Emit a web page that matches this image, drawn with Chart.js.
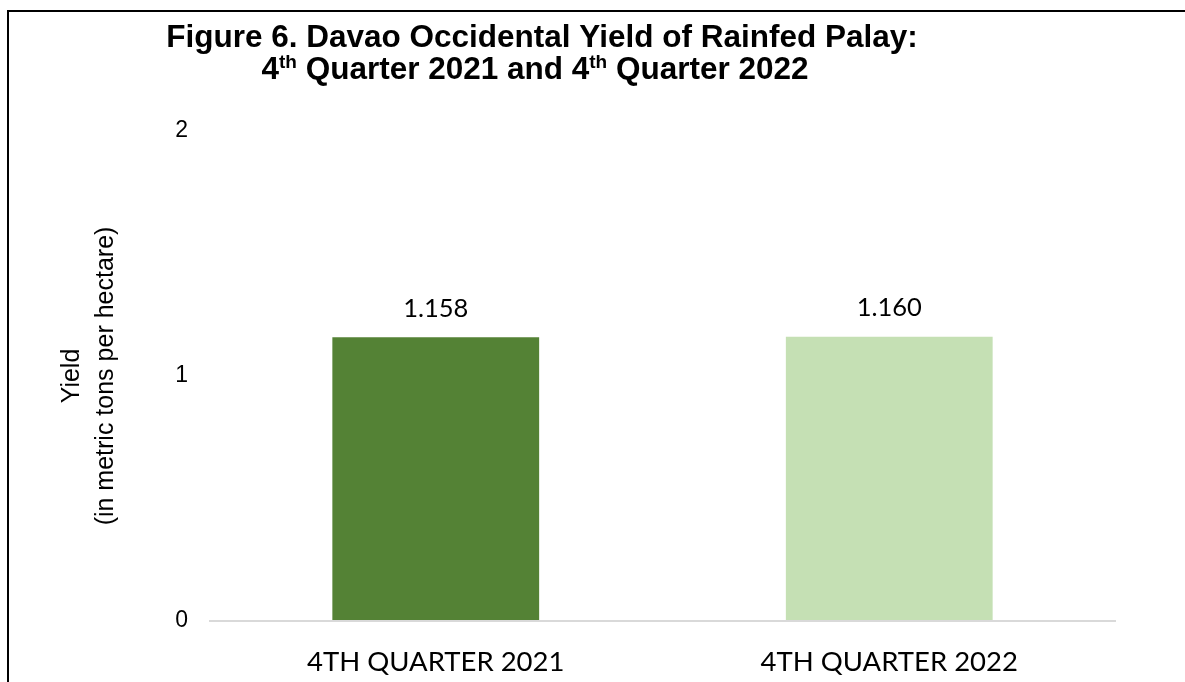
<!DOCTYPE html>
<html>
<head>
<meta charset="utf-8">
<script src="https://cdn.jsdelivr.net/npm/chart.js@4"></script>
<style>
	html, body { margin: 0; padding: 0; background: #fff; }
	#wrap { position: relative; width: 1185px; height: 682px; overflow: hidden; }
	#frame {
		position: absolute; left: 7px; top: 10px; width: 1200px; height: 700px;
		border-left: 2px solid #000; border-top: 2px solid #000;
		pointer-events: none;
	}
	canvas { position: absolute; left: 0; top: 0; }
</style>
</head>
<body>
<div id="wrap">
	<canvas id="yieldChart" width="1185" height="682"></canvas>
	<div id="frame"></div>
</div>
<script>
	// Chart data
	const categories = ['4TH QUARTER 2021', '4TH QUARTER 2022'];
	const yieldValues = [1.158, 1.160];
	const barColors = ['#548235', '#C5E0B4'];
	const yTicks = [0, 1, 2];

	// Title pieces: [text, superscript?]
	const titleLine1 = [['Figure 6. Davao Occidental Yield of Rainfed Palay:', false]];
	const titleLine2 = [['4', false], ['th', true], [' Quarter 2021 and 4', false], ['th', true], [' Quarter 2022', false]];

	const TITLE_FONT = 'bold 31.5px "Liberation Sans", Arial, sans-serif';
	const SUP_FONT = 'bold 19px "Liberation Sans", Arial, sans-serif';

	/**
	 * Draws the two-line title with superscripts
	 */
	const titlePlugin = {
		id: 'figTitle',
		afterDraw: function(chart) {
			const ctx = chart.ctx;
			const drawLine = function(parts, cx, baseY) {
				let total = 0;
				parts.forEach(function(p) {
					ctx.font = p[1] ? SUP_FONT : TITLE_FONT;
					total += ctx.measureText(p[0]).width;
				});
				let x = cx - total / 2;
				parts.forEach(function(p) {
					ctx.font = p[1] ? SUP_FONT : TITLE_FONT;
					ctx.fillText(p[0], x, p[1] ? baseY - 11 : baseY);
					x += ctx.measureText(p[0]).width;
				});
			};
			ctx.save();
			ctx.fillStyle = '#000';
			ctx.textAlign = 'left';
			ctx.textBaseline = 'alphabetic';
			drawLine(titleLine1, 542, 47);
			drawLine(titleLine2, 535, 79);
			ctx.restore();
		}
	};

	/**
	 * Value labels above bars
	 */
	const valueLabels = {
		id: 'valueLabels',
		afterDatasetsDraw: function(chart) {
			const ctx = chart.ctx;
			const meta = chart.getDatasetMeta(0);
			ctx.save();
			ctx.font = '25.5px Lato, "Open Sans", sans-serif';
			ctx.fillStyle = '#000';
			ctx.textAlign = 'center';
			ctx.textBaseline = 'middle';
			meta.data.forEach(function(bar, i) {
				ctx.fillText(yieldValues[i].toFixed(3), bar.x, bar.y - 29);
			});
			ctx.restore();
		}
	};

	const ctx = document.getElementById('yieldChart');

	new Chart(ctx, {
		type: 'bar',
		data: {
			labels: categories,
			datasets: [{
				data: yieldValues,
				backgroundColor: barColors,
				borderWidth: 0,
				categoryPercentage: 1,
				barPercentage: 0.456
			}]
		},
		options: {
			responsive: false,
			animation: false,
			layout: {
				padding: { top: 131, right: 69, left: 0, bottom: 0 }
			},
			plugins: {
				legend: { display: false },
				tooltip: { enabled: false }
			},
			scales: {
				x: {
					grid: { display: false },
					border: { display: false },
					ticks: {
						color: '#000',
						padding: 17,
						font: { family: 'Lato, "Open Sans", sans-serif', size: 27.5 }
					},
					afterFit: function(scale) { scale.height = 61; }
				},
				y: {
					min: 0,
					max: 2,
					afterBuildTicks: function(scale) {
						scale.ticks = yTicks.map(function(v) { return { value: v }; });
					},
					grid: {
						drawTicks: false,
						color: function(c) { return c.tick && c.tick.value === 0 ? '#d9d9d9' : 'rgba(0,0,0,0)'; },
						lineWidth: 2
					},
					border: { display: false },
					ticks: {
						color: '#000',
						padding: 21,
						font: { family: '"Liberation Sans", Arial, sans-serif', size: 23 }
					},
					title: {
						display: true,
						text: ['Yield', '(in metric tons per hectare)'],
						color: '#000',
						padding: { top: 55, bottom: 0 },
						font: { family: '"Liberation Sans", Arial, sans-serif', size: 25, lineHeight: 1.36 }
					},
					afterFit: function(scale) { scale.width = 209; }
				}
			}
		},
		plugins: [titlePlugin, valueLabels]
	});
</script>
</body>
</html>
